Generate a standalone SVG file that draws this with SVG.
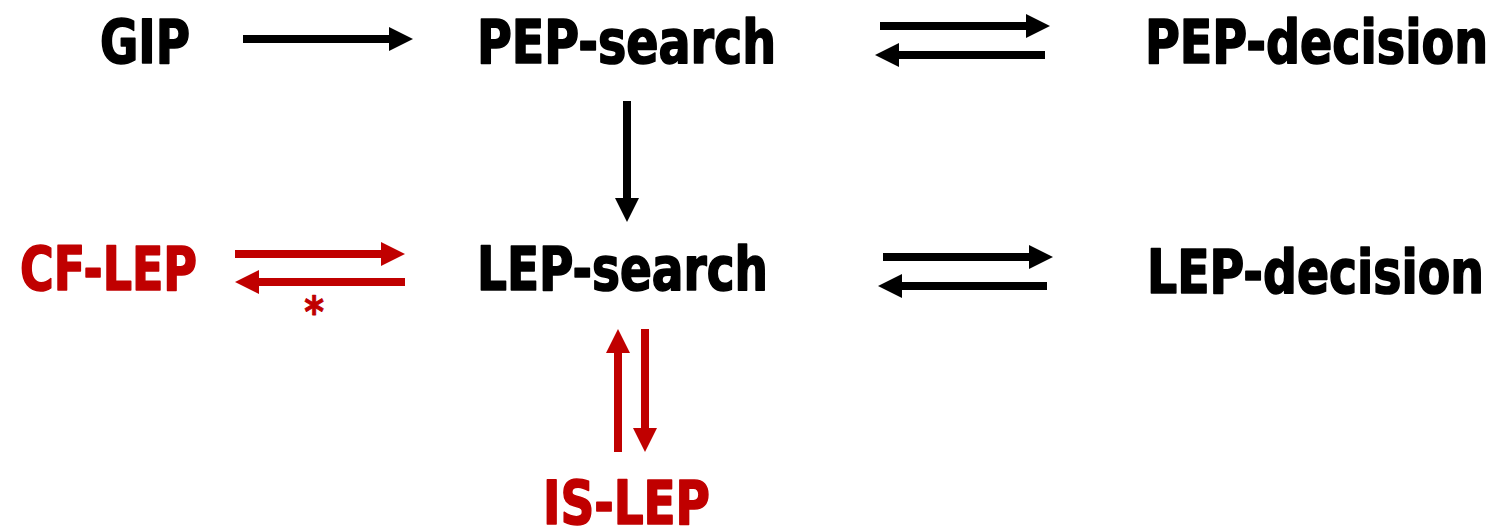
<svg xmlns="http://www.w3.org/2000/svg" width="1496" height="531" viewBox="0 0 1496 531">
  <style>
    .lbl { font-family: "Liberation Sans Narrow", "DejaVu Sans Condensed", "Arial Narrow", sans-serif; font-weight: bold; font-size: 52px; stroke-width: 1.4; stroke-linejoin: round; }
    .blk { fill: #000000; }
    .red { fill: #C00000; }
    text.blk { stroke: #000000; }
    text.red { stroke: #C00000; }
    .shaft { stroke-width: 8; fill: none; stroke-linecap: butt; }
    .sk { stroke: #000000; }
    .sr { stroke: #C00000; }
  </style>
  <defs>
    <!-- arrowhead pointing right, tip at origin -->
    <path id="head" d="M-24,-12 L0,0 L-24,12 Z"/>
  </defs>

  <rect width="1496" height="531" fill="#ffffff"/>

  <g id="connectors">
    <g class="blk">
      <line class="shaft sk" x1="243" y1="39" x2="392" y2="39"/>
      <use href="#head" transform="translate(413,39)"/>
      <line class="shaft sk" x1="880" y1="26" x2="1029" y2="26"/>
      <use href="#head" transform="translate(1050,26)"/>
      <line class="shaft sk" x1="1045" y1="55" x2="896" y2="55"/>
      <use href="#head" transform="translate(875,55) rotate(180)"/>
      <line class="shaft sk" x1="627" y1="101" x2="627" y2="201"/>
      <use href="#head" transform="translate(627,222) rotate(90)"/>
      <line class="shaft sk" x1="883" y1="257" x2="1032" y2="257"/>
      <use href="#head" transform="translate(1053,257)"/>
      <line class="shaft sk" x1="1047" y1="286" x2="899" y2="286"/>
      <use href="#head" transform="translate(878,286) rotate(180)"/>
    </g>
    <g class="red">
      <line class="shaft sr" x1="235" y1="254" x2="384" y2="254"/>
      <use href="#head" transform="translate(405,254)"/>
      <line class="shaft sr" x1="405" y1="282" x2="256" y2="282"/>
      <use href="#head" transform="translate(235,282) rotate(180)"/>
      <line class="shaft sr" x1="618" y1="452" x2="618" y2="350"/>
      <use href="#head" transform="translate(618,329) rotate(-90)"/>
      <line class="shaft sr" x1="645" y1="329" x2="645" y2="431"/>
      <use href="#head" transform="translate(645,452) rotate(90)"/>
      <text class="lbl red" x="314" y="327" text-anchor="middle" style="font-size:42px;stroke-width:0.8">*</text>
    </g>
  </g>

  <!-- labels: condensed bold, stretched vertically to the tall cap height -->
  <g id="gip"><text class="lbl blk" transform="translate(100,63) scale(1,1.15)" textLength="90" lengthAdjust="spacingAndGlyphs">GIP</text></g>
  <g id="pep-search"><text class="lbl blk" transform="translate(477,63) scale(1,1.15)" textLength="299" lengthAdjust="spacingAndGlyphs">PEP-search</text></g>
  <g id="pep-decision"><text class="lbl blk" transform="translate(1145,63) scale(1,1.15)" textLength="343" lengthAdjust="spacingAndGlyphs">PEP-decision</text></g>
  <g id="cf-lep"><text class="lbl red" transform="translate(20,290) scale(1,1.15)" textLength="177" lengthAdjust="spacingAndGlyphs">CF-LEP</text></g>
  <g id="lep-search"><text class="lbl blk" transform="translate(477,290) scale(1,1.15)" textLength="291" lengthAdjust="spacingAndGlyphs">LEP-search</text></g>
  <g id="lep-decision"><text class="lbl blk" transform="translate(1147,293) scale(1,1.15)" textLength="337" lengthAdjust="spacingAndGlyphs">LEP-decision</text></g>
  <g id="is-lep"><text class="lbl red" transform="translate(543,524) scale(1,1.15)" textLength="167" lengthAdjust="spacingAndGlyphs">IS-LEP</text></g>
</svg>
